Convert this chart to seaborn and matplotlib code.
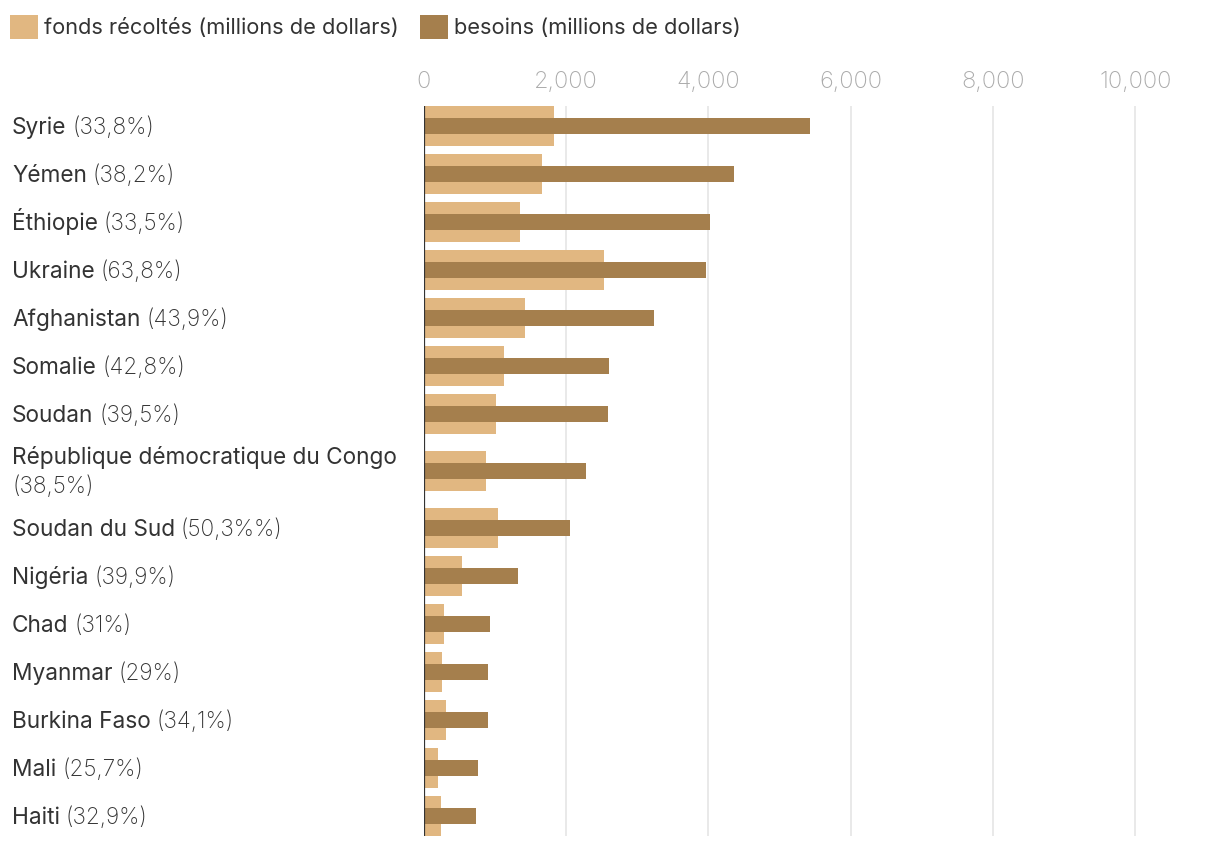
import matplotlib
matplotlib.use("Agg")
import matplotlib.pyplot as plt
import seaborn as sns
import pandas as pd
import numpy as np
from matplotlib import transforms
from matplotlib.patches import Patch
from matplotlib.ticker import FuncFormatter

# ---------------- data ----------------
countries = ["Syrie", "Yémen", "Éthiopie", "Ukraine", "Afghanistan", "Somalie", "Soudan",
             "République démocratique du Congo", "Soudan du Sud", "Nigéria", "Chad",
             "Myanmar", "Burkina Faso", "Mali", "Haiti"]
percent_labels = ["(33,8%)", "(38,2%)", "(33,5%)", "(63,8%)", "(43,9%)", "(42,8%)", "(39,5%)",
                  "(38,5%)", "(50,3%%)", "(39,9%)", "(31%)", "(29%)", "(34,1%)", "(25,7%)",
                  "(32,9%)"]
funds = [1830, 1660, 1350, 2530, 1427, 1118, 1010, 865, 1035, 533, 282, 254, 308, 197, 245]
needs = [5425, 4357, 4020, 3963, 3227, 2608, 2582, 2271, 2046, 1321, 928, 900, 900, 759, 731]
xticks = [0, 2000, 4000, 6000, 8000, 10000]
legend_labels = ["fonds récoltés (millions de dollars)", "besoins (millions de dollars)"]

# ---------------- style ----------------
sns.set_theme(style="white")
plt.rcParams["font.family"] = ["Inter", "DejaVu Sans"]

LIGHT = "#E1B781"
DARK = "#A57F4D"
TEXT = "#333333"

W, H = 1220, 848
fig = plt.figure(figsize=(W / 100, H / 100), dpi=100)

# rows whose label wraps on two lines get more room
wrapped = [len(c) > 25 for c in countries]
heights = np.array([1.375 if w else 1.0 for w in wrapped])
centers = np.cumsum(heights) - heights / 2

df = pd.DataFrame({"pays": countries, "fonds": funds, "besoins": needs, "pos": centers})

ax_left, ax_top, ax_bottom = 424, 106, 836
xmax = 10600
px_per_unit = 71.12 / 1000
ax_right = ax_left + xmax * px_per_unit
ax = fig.add_axes([ax_left / W, 1 - ax_bottom / H, (ax_right - ax_left) / W, (ax_bottom - ax_top) / H])

light_w = 40 / 48
dark_w = 16 / 48
sns.barplot(data=df, x="fonds", y="pos", orient="y", native_scale=True, width=light_w,
            color=LIGHT, saturation=1, ax=ax, linewidth=0, zorder=2)
sns.barplot(data=df, x="besoins", y="pos", orient="y", native_scale=True, width=dark_w,
            color=DARK, saturation=1, ax=ax, linewidth=0, zorder=3)

ax.set_xlim(0, xmax)
ax.set_ylim(centers[-1] + light_w / 2, centers[0] - light_w / 2)

for s in ax.spines.values():
    s.set_visible(False)
ax.set_xlabel("")
ax.set_ylabel("")
ax.set_yticks([])
ax.set_xticks(xticks)
ax.xaxis.set_major_formatter(FuncFormatter(lambda v, p: f"{int(v):,}"))
ax.xaxis.tick_top()
ax.tick_params(axis="x", length=0, pad=9, labelsize=17, labelcolor="#ababab")
for lab in ax.get_xticklabels():
    lab.set_fontweight("light")
ax.grid(axis="x", color="#e5e5e5", linewidth=1.2, zorder=0)
ax.grid(axis="y", visible=False)
ax.set_axisbelow(True)
ax.axvline(0, color=TEXT, linewidth=1.6, zorder=4)

# ---------------- row labels ----------------
blend = transforms.blended_transform_factory(fig.transFigure, ax.transData)
label_size = 16.3
half_cap = 5.8  # points: baseline sits half a cap height below the row centre
for name, pct, y, w in zip(countries, percent_labels, centers, wrapped):
    if w:
        ax.annotate(name, xy=(12 / W, y), xycoords=blend, xytext=(0, 11.2 - half_cap),
                    textcoords="offset points", ha="left", va="baseline",
                    fontsize=label_size, color=TEXT, annotation_clip=False)
        ax.annotate(pct, xy=(12 / W, y), xycoords=blend, xytext=(0, -10.3 - half_cap),
                    textcoords="offset points", ha="left", va="baseline",
                    fontsize=label_size, color=TEXT, fontweight="light",
                    annotation_clip=False)
    else:
        t = ax.annotate(name, xy=(12 / W, y), xycoords=blend, xytext=(0, -half_cap),
                        textcoords="offset points", ha="left", va="baseline",
                        fontsize=label_size, color=TEXT, annotation_clip=False)
        ax.annotate(pct, xy=(1, 0), xycoords=t, xytext=(4.2, 0), textcoords="offset points",
                    ha="left", va="bottom",
                    fontsize=label_size, color=TEXT, fontweight="light",
                    annotation_clip=False)

# ---------------- legend ----------------
handles = [Patch(facecolor=LIGHT, edgecolor="none"), Patch(facecolor=DARK, edgecolor="none")]
fig.legend(handles, legend_labels, loc="upper left", bbox_to_anchor=(10 / W, 1 - 15 / H),
           ncol=2, frameon=False, borderpad=0, borderaxespad=0, fontsize=15.7,
           labelcolor=TEXT, handlelength=1.3, handleheight=1.3, handletextpad=0.28,
           columnspacing=0.95)

fig.savefig("out.png", dpi=100)
